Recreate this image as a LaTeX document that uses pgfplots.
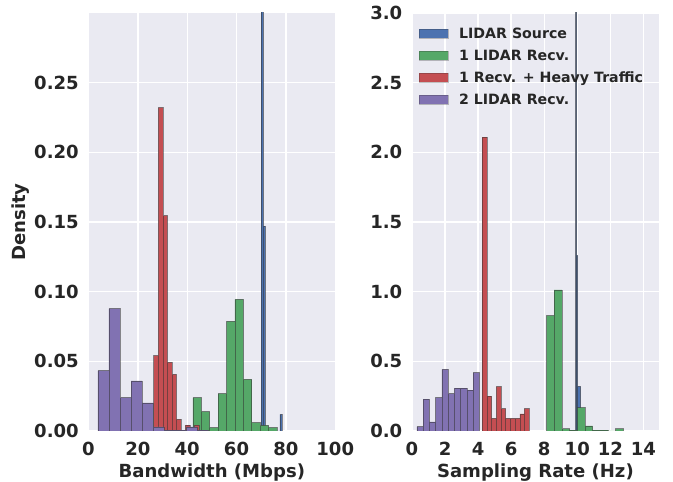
\documentclass[border=0pt]{standalone}
\usepackage{fontspec}
\setmainfont{DejaVu Sans}
\usepackage{pgfplots}
\pgfplotsset{compat=1.18}

\definecolor{sbblue}{HTML}{4C72B0}
\definecolor{sbgreen}{HTML}{55A868}
\definecolor{sbred}{HTML}{C44E52}
\definecolor{sbpurple}{HTML}{8172B2}
\definecolor{sbbg}{HTML}{EAEAF2}
\definecolor{sbtext}{HTML}{262626}

\pgfplotsset{
  sb/.style={
    scale only axis,
    width=177.66pt, height=300.96pt,
    axis background/.style={fill=sbbg},
    axis line style={draw=none},
    major tick length=0pt,
    grid=major,
    major grid style={white, line width=1pt},
    tick label style={font=\fontsize{13}{15}\selectfont\bfseries, text=sbtext},
    label style={font=\fontsize{13}{15}\selectfont\bfseries, text=sbtext},
    /pgf/number format/assume math mode=true,
    x tick label as interval=false,
    xticklabel style={anchor=north, inner sep=0pt, yshift=-7.7pt},
    yticklabel style={anchor=east, inner sep=0pt, xshift=-6.8pt},
    xlabel style={at={(axis description cs:0.5,-0.1124)}, anchor=base},
    ylabel style={at={(axis description cs:-0.2553,0.5)}, anchor=base},
    ymin=0,
  },
  hist/.style={ybar interval, fill=#1, draw=black!80, draw opacity=0.55, line width=0.4pt,
    legend image code/.code={
      \path[draw=none, fill=none] (0pt,0pt) -- (28.6pt,0pt);
      \path[fill=#1, draw=black!80, draw opacity=0.3, line width=0.3pt] (0pt,-1.96pt) rectangle (20.9pt,4.52pt);
    }},
}

\begin{document}
\begin{tikzpicture}
\path[use as bounding box] (0pt,0pt) rectangle (484.56pt,347.04pt);

% left: bandwidth
\begin{axis}[sb,
    at={(63.72pt,36.72pt)}, anchor=south west,
    xmin=0, xmax=100, ymax=0.3,
    xtick={0,20,...,100},
    ytick={0,0.05,0.1,0.15,0.2,0.25},
    yticklabel style={/pgf/number format/.cd, fixed, fixed zerofill, precision=2},
    xlabel={Bandwidth (Mbps)},
    ylabel={Density},
]
\addplot[hist=sbblue] coordinates {
  (70.00,1.05) (70.84,0.147) (71.68,0) (72.52,0) (73.36,0) (74.20,0)
  (75.04,0) (75.88,0) (76.72,0) (77.56,0.012) (78.40,0)
};
\addplot[hist=sbgreen] coordinates {
  (42.30,0.0240) (45.71,0.0139) (49.12,0.0024) (52.53,0.0269) (55.94,0.0786)
  (59.35,0.0945) (62.76,0.0370) (66.17,0.0060) (69.58,0.0041) (72.99,0.0024)
  (76.40,0)
};
\addplot[hist=sbred] coordinates {
  (26.45,0.0541) (28.28,0.2320) (30.11,0.1546) (31.94,0.0493) (33.77,0.0406)
  (35.60,0.0084) (37.43,0.0004) (39.26,0.0043) (41.09,0.0010) (42.92,0.0043)
  (44.75,0)
};
\addplot[hist=sbpurple] coordinates {
  (3.80,0.0433) (8.28,0.0878) (12.76,0.0240) (17.24,0.0359) (21.72,0.0202)
  (26.20,0.0029) (30.68,0.0007) (35.16,0.0007) (39.64,0.0029) (44.12,0.0007)
  (48.60,0)
};
\end{axis}

% right: sampling rate
\begin{axis}[sb,
    at={(296.64pt,36.72pt)}, anchor=south west,
    xmin=0, xmax=14.93, ymax=3,
    xtick={0,2,...,14},
    ytick={0,0.5,1,1.5,2,2.5,3},
    yticklabel style={/pgf/number format/.cd, fixed, fixed zerofill, precision=1},
    xlabel={Sampling Rate (Hz)},
    legend style={at={(axis description cs:0,1)}, anchor=north west,
      xshift=5pt, yshift=-10.68pt, draw=none, fill=none, inner sep=0pt,
      font=\fontsize{10.2}{12}\selectfont\bfseries, text=sbtext,
      row sep=5.84pt, nodes={inner sep=0pt, text height=7.44pt, text depth=2.56pt}},
    legend cell align=left,
]
\addplot[hist=sbblue] coordinates {
  (9.90,10) (9.96,1.26) (10.02,0.32) (10.20,0)
};
\addlegendentry{LIDAR Source}
\addplot[hist=sbgreen] coordinates {
  (8.14,0.828) (8.605,1.012) (9.07,0.016) (9.535,0.007) (10.00,0.167)
  (10.465,0.036) (10.93,0.007) (11.395,0.007) (11.86,0) (12.325,0.016)
  (12.79,0)
};
\addlegendentry{1 LIDAR Recv.}
\addplot[hist=sbred] coordinates {
  (4.25,2.11) (4.534,0.251) (4.818,0.091) (5.102,0.318) (5.386,0.160)
  (5.67,0.091) (5.954,0.091) (6.238,0.091) (6.522,0.122) (6.806,0.160)
  (7.09,0)
};
\addlegendentry{1 Recv. + Heavy Traffic}
\addplot[hist=sbpurple] coordinates {
  (0.30,0.031) (0.677,0.228) (1.054,0.065) (1.431,0.239) (1.808,0.443)
  (2.185,0.268) (2.562,0.307) (2.939,0.307) (3.316,0.294) (3.693,0.419)
  (4.07,0)
};
\addlegendentry{2 LIDAR Recv.}
\end{axis}
\end{tikzpicture}
\end{document}
